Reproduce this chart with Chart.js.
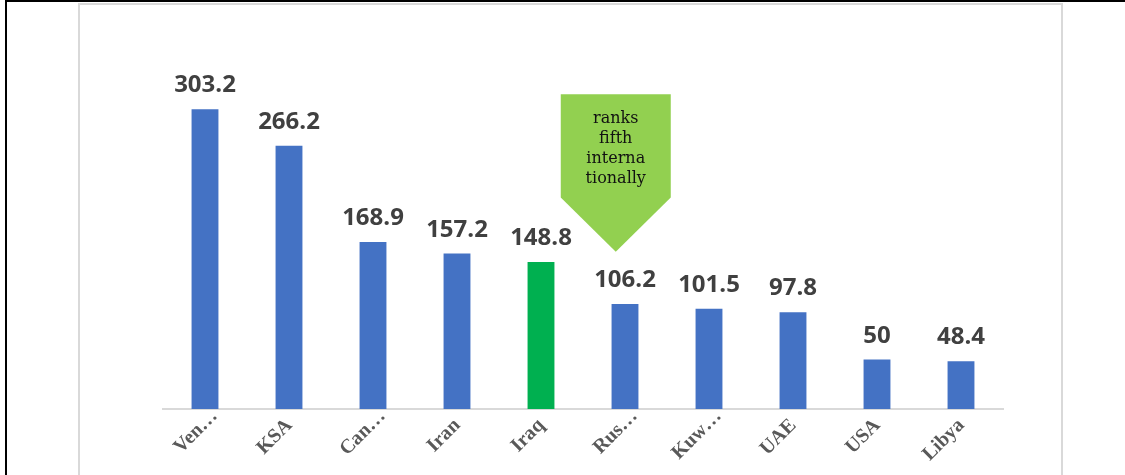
<!DOCTYPE html>
<html>
<head>
<meta charset="utf-8">
<script src="https://cdn.jsdelivr.net/npm/chart.js@4/dist/chart.umd.min.js"></script>
<style>
  html, body { margin: 0; padding: 0; background: #fff; }
  #wrap { position: relative; width: 1125px; height: 475px; }
</style>
</head>
<body>
<div id="wrap"><canvas id="c" width="1125" height="475"></canvas></div>
<script>
const countries = ["Venezuela", "KSA", "Canada", "Iran", "Iraq", "Russia", "Kuwait", "UAE", "USA", "Libya"];
const tickLabels = ["Ven…", "KSA", "Can…", "Iran", "Iraq", "Rus…", "Kuw…", "UAE", "USA", "Libya"];
const reserves = [303.2, 266.2, 168.9, 157.2, 148.8, 106.2, 101.5, 97.8, 50, 48.4];
const highlightCountry = "Iraq";
const calloutLines = ["ranks", "fifth", "interna", "tionally"];

const barColors = countries.map(c => c === highlightCountry ? "#00B050" : "#4472C4");

const framePlugin = {
  id: "frame",
  beforeDraw(chart) {
    const ctx = chart.ctx;
    ctx.save();
    ctx.fillStyle = "#fff";
    ctx.fillRect(0, 0, chart.width, chart.height);
    ctx.strokeStyle = "#d9d9d9";
    ctx.lineWidth = 2;
    ctx.beginPath();
    ctx.moveTo(79, 475); ctx.lineTo(79, 4); ctx.lineTo(1062, 4); ctx.lineTo(1062, 475);
    ctx.stroke();
    ctx.strokeStyle = "#000";
    ctx.lineWidth = 2;
    ctx.beginPath();
    ctx.moveTo(6, 475); ctx.lineTo(6, 1); ctx.lineTo(1125, 1);
    ctx.stroke();
    ctx.restore();
  }
};

const labelPlugin = {
  id: "valueLabels",
  afterDatasetsDraw(chart) {
    const ctx = chart.ctx;
    const meta = chart.getDatasetMeta(0);
    ctx.save();
    ctx.font = "bold 24px 'Open Sans'";
    ctx.fillStyle = "#404040";
    ctx.textAlign = "center";
    ctx.textBaseline = "alphabetic";
    meta.data.forEach((bar, i) => {
      ctx.fillText(String(reserves[i]), bar.x, bar.y - 17);
    });
    ctx.restore();
  }
};

const tickPlugin = {
  id: "rotTicks",
  afterDraw(chart) {
    const xs = chart.scales.x;
    const ctx = chart.ctx;
    ctx.save();
    ctx.font = "bold 20px 'Liberation Serif'";
    ctx.fillStyle = "#595959";
    ctx.textAlign = "right";
    ctx.textBaseline = "alphabetic";
    tickLabels.forEach((t, i) => {
      const x = xs.getPixelForValue(i);
      const extra = t.endsWith("…") ? 13 : 0;
      ctx.save();
      ctx.translate(x + 4, xs.top + 17);
      ctx.rotate(-Math.PI / 4);
      ctx.fillText(t, extra, 0);
      ctx.restore();
    });
    ctx.restore();
  }
};

const calloutPlugin = {
  id: "callout",
  afterDatasetsDraw(chart) {
    const xs = chart.scales.x, ys = chart.scales.y;
    const i = countries.indexOf(highlightCountry);
    const p0 = xs.getPixelForValue(i), p1 = xs.getPixelForValue(i + 1);
    const cx = p0 + 0.89 * (p1 - p0);
    const halfW = 55;
    const top = ys.getPixelForValue(318.5);
    const shoulder = ys.getPixelForValue(214);
    const tip = ys.getPixelForValue(159);
    const ctx = chart.ctx;
    ctx.save();
    ctx.fillStyle = "#92D050";
    ctx.beginPath();
    ctx.moveTo(cx - halfW, top);
    ctx.lineTo(cx + halfW, top);
    ctx.lineTo(cx + halfW, shoulder);
    ctx.lineTo(cx, tip);
    ctx.lineTo(cx - halfW, shoulder);
    ctx.closePath();
    ctx.fill();
    ctx.fillStyle = "#111";
    ctx.font = "16px 'DejaVu Serif'";
    ctx.textAlign = "center";
    ctx.textBaseline = "middle";
    calloutLines.forEach((t, k) => {
      ctx.fillText(t, cx, top + 25 + k * 20);
    });
    ctx.restore();
  }
};

new Chart(document.getElementById("c"), {
  type: "bar",
  data: {
    labels: countries,
    datasets: [{
      data: reserves,
      backgroundColor: barColors,
      borderWidth: 0,
      barPercentage: 0.64,
      categoryPercentage: 0.5
    }]
  },
  options: {
    responsive: false,
    animation: false,
    devicePixelRatio: 1,
    layout: { padding: { left: 163, right: 122, top: 63, bottom: 0 } },
    plugins: { legend: { display: false }, tooltip: { enabled: false } },
    scales: {
      y: {
        display: false,
        min: 0,
        max: 350
      },
      x: {
        grid: { display: false },
        border: { display: true, color: "#d9d9d9", width: 2 },
        ticks: { display: false },
        afterFit: s => { s.height = 66; }
      }
    }
  },
  plugins: [framePlugin, labelPlugin, calloutPlugin, tickPlugin]
});
</script>
</body>
</html>
